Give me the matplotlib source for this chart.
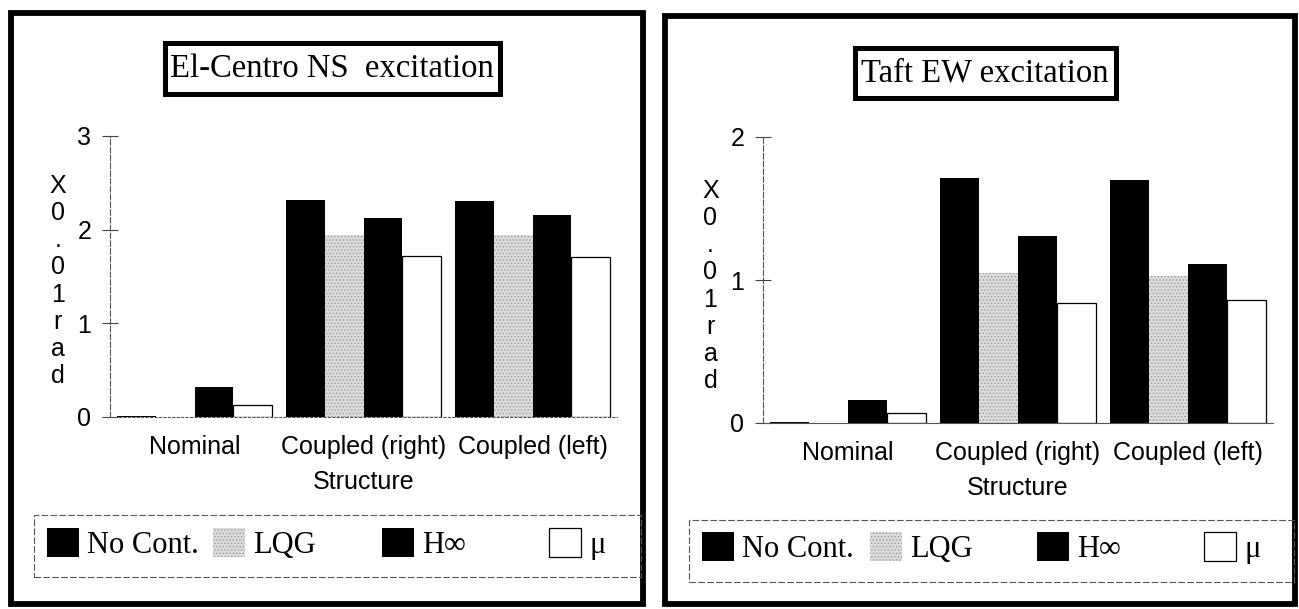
import matplotlib
matplotlib.use("Agg")
import matplotlib.pyplot as plt
import numpy as np
from matplotlib.patches import Rectangle

# ---------------- data ----------------
categories = ["Nominal", "Coupled (right)", "Coupled (left)"]
series = ["No Cont.", "LQG", "H\u221e", "\u03bc"]

elcentro_nocont = [0.01, 2.32, 2.31]
elcentro_lqg = [0.005, 1.94, 1.94]
elcentro_hinf = [0.32, 2.12, 2.16]
elcentro_mu = [0.13, 1.72, 1.71]

taft_nocont = [0.005, 1.71, 1.70]
taft_lqg = [0.0, 1.05, 1.03]
taft_hinf = [0.16, 1.31, 1.11]
taft_mu = [0.07, 0.84, 0.86]

titles = ["El-Centro NS  excitation", "Taft EW excitation"]
yticks_left = [0, 1, 2, 3]
yticks_right = [0, 1, 2]
xlabel = "Structure"
ylabel = "X\n0\n.\n0\n1\nr\na\nd"

# ---------------- styling ----------------
W, H = 1299, 609
plt.rcParams['hatch.color'] = '#777777'
plt.rcParams['hatch.linewidth'] = 0.6
serif = ['Liberation Serif', 'DejaVu Serif']
sans = ['Liberation Sans', 'DejaVu Sans']

styles = [
    dict(color='black', edgecolor='black', linewidth=0),
    dict(color='#dcdcdc', edgecolor='#9a9a9a', hatch='.....', linewidth=0),
    dict(color='black', edgecolor='black', linewidth=0),
    dict(color='white', edgecolor='black', linewidth=0.9),
]

fig = plt.figure(figsize=(W / 100, H / 100), dpi=100)


def fx(x):
    return x / W


def fy(y):
    return 1 - y / H


def frect(x0, y0, x1, y1, **kw):
    r = Rectangle((fx(x0), fy(y1)), fx(x1) - fx(x0), fy(y0) - fy(y1),
                  transform=fig.transFigure, fill=False, **kw)
    fig.add_artist(r)
    return r


def panel(axbox, data, ymax, yticks, title, titlebox, title_center,
          frame, legbox, leg_x, leg_y, base_ls, ylab_y):
    x0, ytop, x1, y0 = axbox
    ax = fig.add_axes([fx(x0), fy(y0), fx(x1) - fx(x0), fy(ytop) - fy(y0)])
    x = np.arange(len(categories))
    w = 0.229
    conts = []
    for i, vals in enumerate(data):
        c = ax.bar(x + (i - 1.5) * w, vals, width=w, label=series[i], **styles[i])
        conts.append(c)
    ax.set_xlim(-0.5, 2.5)
    ax.set_ylim(0, ymax)
    ax.set_yticks(yticks)
    ax.set_yticklabels([str(t) for t in yticks], fontsize=18, family=sans)
    ax.set_xticks(x)
    ax.set_xticklabels(categories, fontsize=18, family=sans)
    ax.tick_params(axis='x', length=0, pad=13)
    ax.tick_params(axis='y', direction='inout', length=11, width=0.8,
                   color='#444444', pad=8)
    for s in ['top', 'right']:
        ax.spines[s].set_visible(False)
    ax.spines['left'].set_linestyle((0, (5, 2)))
    ax.spines['left'].set_linewidth(0.8)
    ax.spines['left'].set_color('#555555')
    ax.spines['bottom'].set_linestyle(base_ls)
    ax.spines['bottom'].set_linewidth(0.8)
    ax.spines['bottom'].set_color('#555555')
    ax.set_xlabel(xlabel, fontsize=18, family=sans, labelpad=8)
    ax.set_ylabel(ylabel, rotation=0, fontsize=18, family=sans,
                  linespacing=1.17, va='center', ha='center')
    ax.yaxis.set_label_coords(-0.103, ylab_y)
    ax.set_facecolor('none')

    # outer frame
    frect(*frame, linewidth=4.2, edgecolor='black')
    # title box
    frect(*titlebox, linewidth=3.6, edgecolor='black')
    fig.text(fx(title_center[0]), fy(title_center[1]), title, ha='center',
             va='center', fontsize=23.5, family=serif)
    # legend box
    frect(*legbox, linewidth=0.8, edgecolor='#555555', linestyle=(0, (6, 2)))
    for c, lx in zip(conts, leg_x):
        fig.legend(handles=[c], labels=[c.get_label()], loc='center left',
                   bbox_to_anchor=(fx(lx), fy(leg_y)), frameon=False,
                   borderpad=0, borderaxespad=0, handlelength=1.05,
                   handleheight=1.05, handletextpad=0.27,
                   prop=dict(family=serif, size=22))
    return ax


panel((110, 136, 617, 417),
      [elcentro_nocont, elcentro_lqg, elcentro_hinf, elcentro_mu],
      3, yticks_left, titles[0], (165, 43, 500, 94), (332, 69),
      (11, 13, 643, 604), (34, 515, 641, 577),
      [47, 213, 382, 549], 544, (0, (2, 2)), 0.484)

panel((763, 137, 1273, 423),
      [taft_nocont, taft_lqg, taft_hinf, taft_mu],
      2, yticks_right, titles[1], (855, 48, 1116, 98), (985, 73),
      (665, 16, 1295, 604), (689, 520, 1294, 582),
      [702, 870, 1037, 1204], 548, '-', 0.479)

fig.savefig('out.png', dpi=100)
